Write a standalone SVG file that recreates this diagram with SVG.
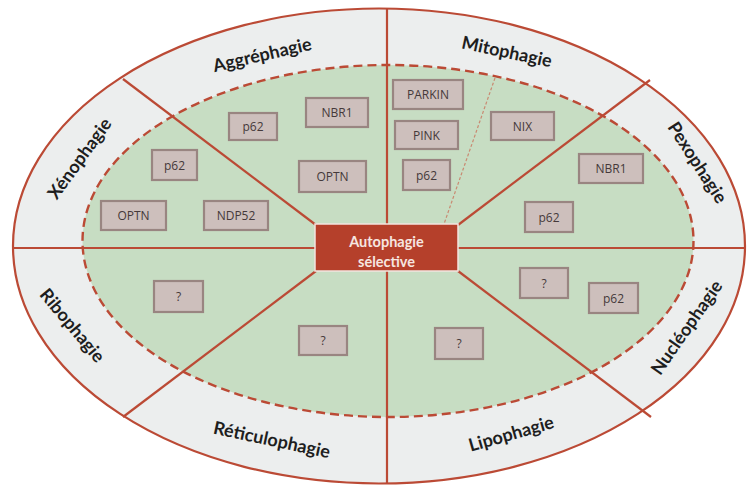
<svg xmlns="http://www.w3.org/2000/svg" width="752" height="488" viewBox="0 0 752 488">
<style>
.sector{font-family:Lato,"Open Sans","Liberation Sans",sans-serif;font-weight:bold;font-size:18px;fill:#1e1e1e;text-anchor:middle;dominant-baseline:central}
.box rect{fill:#cdbfbc;stroke:#998581;stroke-width:2.2}
.box text{font-family:"Open Sans","Liberation Sans",sans-serif;font-size:12px;fill:#45393a;text-anchor:middle;dominant-baseline:central}
.conn line{stroke:#bb4a35;stroke-width:2.2}
</style>
<rect width="752" height="488" fill="#ffffff"/>
<g id="ring">
<ellipse cx="379" cy="246" rx="366" ry="237.5" fill="#eceeee" stroke="#bb4a35" stroke-width="2.2"/>
<ellipse cx="388" cy="241" rx="305.5" ry="176" fill="#c7ddc3" stroke="#bb4a35" stroke-width="2.4" stroke-dasharray="9 5"/>
</g>
<g id="connectors" class="conn">
<line x1="387" y1="9" x2="387" y2="484"/>
<line x1="13" y1="248" x2="745" y2="248"/>
<line x1="316" y1="225" x2="123" y2="79"/>
<line x1="458" y1="225" x2="650" y2="80"/>
<line x1="316" y1="271" x2="123" y2="417"/>
<line x1="458" y1="271" x2="651" y2="417"/>
<line x1="495" y1="78" x2="444" y2="224" style="stroke:#c98a72;stroke-width:1.2;stroke-dasharray:3 2"/>
</g>
<g id="center">
<rect x="315" y="224" width="143" height="47" fill="#b5402b" stroke="#f4e4df" stroke-width="1.5"/>
<text x="386.5" y="241" font-family="Lato,'Open Sans','Liberation Sans',sans-serif" font-weight="bold" font-size="14.5" fill="#f6e6e0" text-anchor="middle" dominant-baseline="central">Autophagie</text>
<text x="386.5" y="261" font-family="Lato,'Open Sans','Liberation Sans',sans-serif" font-weight="bold" font-size="14.5" fill="#f6e6e0" text-anchor="middle" dominant-baseline="central">sélective</text>
</g>
<g id="label-aggrephagie"><text class="sector" transform="rotate(-13 262 54)" x="262" y="54">Aggréphagie</text></g>
<g id="label-mitophagie"><text class="sector" transform="rotate(12 507 51)" x="507" y="51">Mitophagie</text></g>
<g id="label-xenophagie"><text class="sector" transform="rotate(-54 79 158)" x="79" y="158">Xénophagie</text></g>
<g id="label-pexophagie"><text class="sector" transform="rotate(57 698 162)" x="698" y="162">Pexophagie</text></g>
<g id="label-ribophagie"><text class="sector" transform="rotate(50 73 325)" x="73" y="325">Ribophagie</text></g>
<g id="label-reticulophagie"><text class="sector" transform="rotate(12 272 439)" x="272" y="439">Réticulophagie</text></g>
<g id="label-lipophagie"><text class="sector" transform="rotate(-16 511 433)" x="511" y="433">Lipophagie</text></g>
<g id="label-nucleophagie"><text class="sector" transform="rotate(-55 686 327)" x="686" y="327">Nucléophagie</text></g>
<g id="box-aggr-p62" class="box"><rect x="229" y="113" width="48" height="27"/><text x="253" y="126.5">p62</text></g>
<g id="box-aggr-nbr1" class="box"><rect x="306" y="98" width="62" height="29"/><text x="337" y="112.5">NBR1</text></g>
<g id="box-aggr-optn" class="box"><rect x="299" y="161" width="67" height="31"/><text x="332.5" y="176.5">OPTN</text></g>
<g id="box-xeno-p62" class="box"><rect x="152" y="150" width="45" height="30"/><text x="174.5" y="165">p62</text></g>
<g id="box-xeno-optn" class="box"><rect x="101" y="201" width="65" height="29"/><text x="133.5" y="215.5">OPTN</text></g>
<g id="box-xeno-ndp52" class="box"><rect x="204" y="201" width="64" height="29"/><text x="236" y="215.5">NDP52</text></g>
<g id="box-mito-parkin" class="box"><rect x="393" y="80" width="70" height="29"/><text x="428" y="94.5">PARKIN</text></g>
<g id="box-mito-pink" class="box"><rect x="395" y="121" width="63" height="28"/><text x="426.5" y="135">PINK</text></g>
<g id="box-mito-p62" class="box"><rect x="403" y="160" width="47" height="30"/><text x="426.5" y="175">p62</text></g>
<g id="box-mito-nix" class="box"><rect x="491" y="112" width="63" height="28"/><text x="522.5" y="126">NIX</text></g>
<g id="box-pexo-nbr1" class="box"><rect x="579" y="154" width="64" height="29"/><text x="611" y="168.5">NBR1</text></g>
<g id="box-pexo-p62" class="box"><rect x="525" y="202" width="48" height="30"/><text x="549" y="217">p62</text></g>
<g id="box-ribo-q" class="box"><rect x="154" y="281" width="49" height="31"/><text x="178.5" y="296.5">?</text></g>
<g id="box-reti-q" class="box"><rect x="299" y="326" width="48" height="29"/><text x="323" y="340.5">?</text></g>
<g id="box-nucl-q" class="box"><rect x="520" y="268" width="48" height="30"/><text x="544" y="283">?</text></g>
<g id="box-nucl-p62" class="box"><rect x="589" y="283" width="49" height="30"/><text x="613.5" y="298">p62</text></g>
<g id="box-lipo-q" class="box"><rect x="435" y="328" width="48" height="31"/><text x="459" y="343.5">?</text></g>
</svg>
